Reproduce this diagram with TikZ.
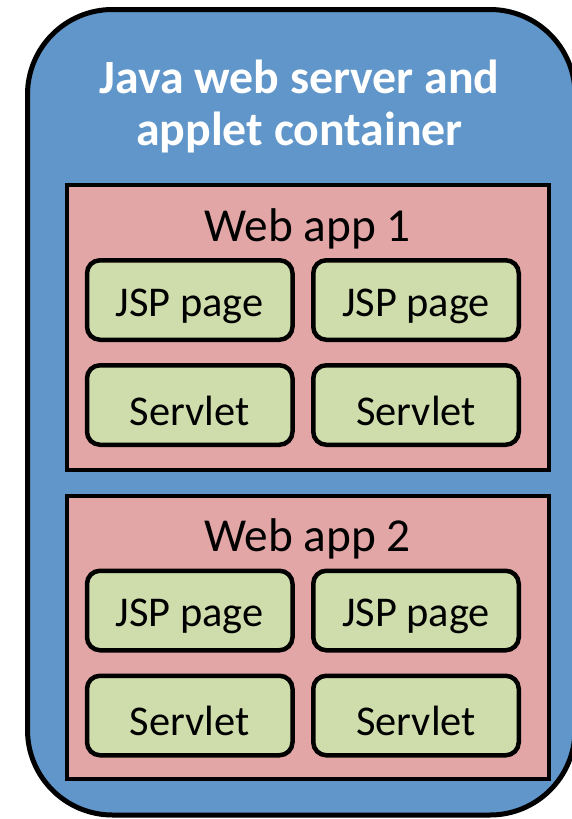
\documentclass[tikz,border=0pt]{standalone}
\usepackage{fontspec}
\setmainfont{Carlito}
\definecolor{cblue}{RGB}{96,150,201}
\definecolor{cred}{RGB}{227,166,166}
\definecolor{cgreen}{RGB}{206,221,171}
\begin{document}
\begin{tikzpicture}[x=1pt,y=-1pt,
 container/.style={draw=black,fill=cblue,line width=5pt,rounded corners=85pt,inner sep=0pt,outer sep=0pt,minimum width=547.5pt,minimum height=805.5pt},
 webapp/.style={draw=black,fill=cred,line width=4pt,inner sep=0pt,outer sep=0pt,minimum width=482pt},
 comp/.style={draw=black,fill=cgreen,line width=4.5pt,rounded corners=13pt,inner sep=0pt,outer sep=0pt,minimum width=205.5pt,minimum height=79.5pt,font=\fontsize{42.4}{42}\selectfont},
 jsp/.style={comp,text height=40pt,text depth=8pt},
 servlet/.style={comp,text height=44pt,text depth=4pt},
 titletext/.style={anchor=base,text=white,inner sep=0pt,font=\fontsize{47.8}{47}\selectfont\bfseries},
 apptext/.style={anchor=base,inner sep=0pt,font=\fontsize{47.3}{47}\selectfont}
]
\useasboundingbox (0,0) rectangle (572,819);
\node[container] (outer) at (301.25,412.25) {};
\node[titletext] (title1) at (299.5,93.5) {Java web server and};
\node[titletext] (title2) at (299.5,145) {applet container};

\node[webapp,minimum height=285pt] (app1) at (307.5,327.5) {};
\node[apptext] (app1label) at (307.5,241) {Web app 1};
\node[jsp] (jsp11) at (189.75,300) {JSP page};
\node[jsp] (jsp12) at (416,300) {JSP page};
\node[servlet] (srv11) at (189.75,405) {Servlet};
\node[servlet] (srv12) at (416,405) {Servlet};

\node[webapp,minimum height=283.5pt] (app2) at (307.5,637.25) {};
\node[apptext] (app2label) at (307.5,551.5) {Web app 2};
\node[jsp] (jsp21) at (189.75,610.5) {JSP page};
\node[jsp] (jsp22) at (416,610.5) {JSP page};
\node[servlet] (srv21) at (189.75,715.5) {Servlet};
\node[servlet] (srv22) at (416,715.5) {Servlet};
\end{tikzpicture}
\end{document}
